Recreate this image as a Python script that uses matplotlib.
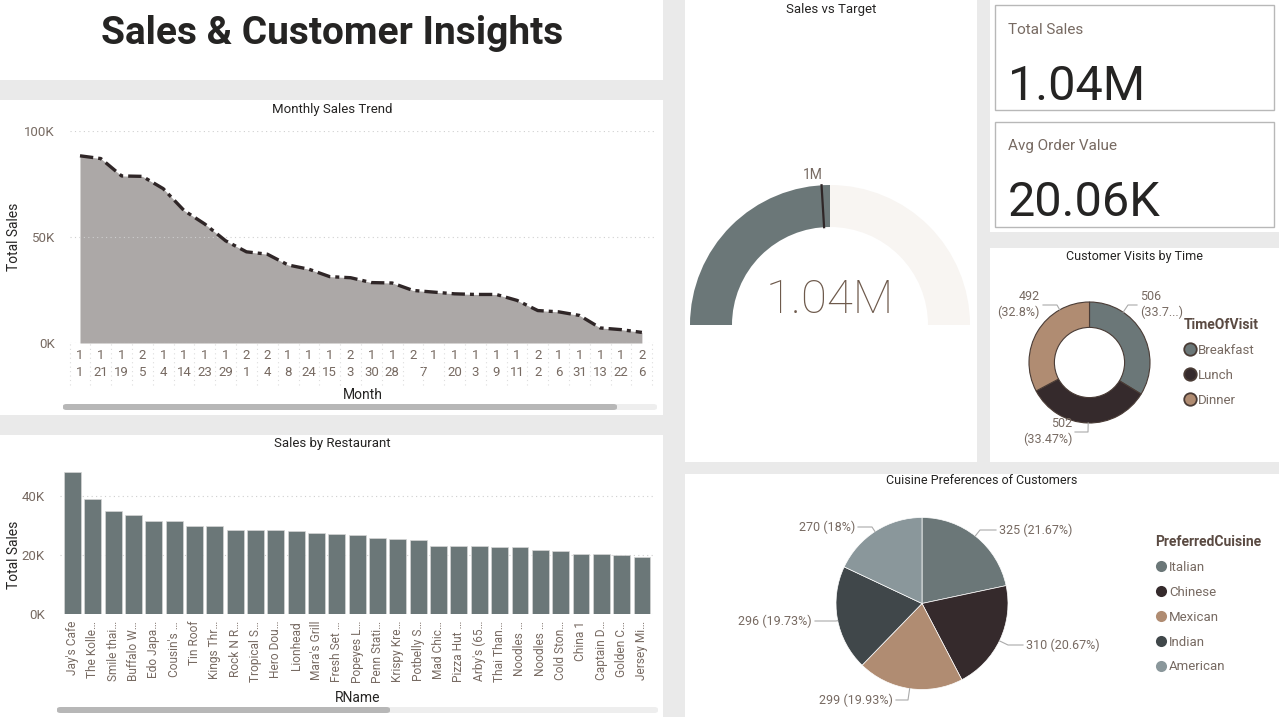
import numpy as np
import matplotlib.pyplot as plt
from matplotlib.patches import Rectangle, Wedge, FancyBboxPatch
from matplotlib.lines import Line2D

plt.rcParams['font.family'] = ['Roboto', 'DejaVu Sans']

# Monthly Sales Trend
month_top = ['1', '1', '1', '2', '1', '1', '1', '1', '2', '2', '1', '1', '1', '2',
             '1', '1', '2', '1', '1', '1', '1', '1', '2', '1', '1', '1', '1', '2']
month_bottom = ['1', '21', '19', '5', '4', '14', '23', '29', '1', '4', '8', '24', '15', '3',
                '30', '28', '', '', '20', '3', '9', '11', '2', '6', '31', '13', '22', '6']
month_shared = '7'  # label shared by ticks 16 and 17
monthly_sales = [88300, 87000, 78800, 78600, 72800, 62500, 56100, 48200, 43000, 41900,
                 36800, 34800, 31300, 30800, 28500, 28300, 24800, 24000, 23200, 22900,
                 22900, 20100, 15300, 14700, 13000, 7100, 6300, 5000]

# Sales by Restaurant
restaurants = ["Jay's Cafe", "The Kolle…", "Smile thai…", "Buffalo W…", "Edo Japa…",
               "Cousin's …", "Tin Roof", "Kings Thr…", "Rock N R…", "Tropical S…",
               "Hero Dou…", "Lionhead", "Mara's Grill", "Fresh Set …", "Popeyes L…",
               "Penn Stati…", "Krispy Kre…", "Potbelly S…", "Mad Chic…", "Pizza Hut …",
               "Arby's (65…", "Thai Than…", "Noodles …", "Noodles …", "Cold Ston…",
               "China 1", "Captain D…", "Golden C…", "Jersey Mi…"]
restaurant_sales = [48100, 38800, 34900, 33400, 31500, 31300, 29900, 29600, 28500, 28300,
                    28300, 28100, 27300, 26900, 26600, 25600, 25200, 24900, 23100, 22900,
                    22900, 22800, 22500, 21600, 21400, 20300, 20200, 19900, 19300]

# KPIs / gauge
total_sales = 1.04e6
avg_order_value = 20060
sales_target = 1.0e6
gauge_max = 2 * total_sales

# Customer visits
visit_times = ['Breakfast', 'Lunch', 'Dinner']
visit_counts = [506, 502, 492]
visit_colors = ['#6b7778', '#352a2c', '#b08c72']

# Cuisine preferences
cuisines = ['Italian', 'Chinese', 'Mexican', 'Indian', 'American']
cuisine_counts = [325, 310, 299, 296, 270]
cuisine_colors = ['#6b7778', '#352a2c', '#b08c72', '#40474a', '#8a979b']

DARK = '#252423'
MUTED = '#776a62'

W, H = 1279, 717
fig = plt.figure(figsize=(W / 100, H / 100), dpi=100, facecolor='#eaeaea')


def box(x0, y0, x1, y1):
    return [x0 / W, 1 - y1 / H, (x1 - x0) / W, (y1 - y0) / H]


def panel(x0, y0, x1, y1, fc='white', ec='none', lw=0):
    fig.add_artist(Rectangle((x0 / W, 1 - y1 / H), (x1 - x0) / W, (y1 - y0) / H,
                             transform=fig.transFigure, facecolor=fc, edgecolor=ec,
                             linewidth=lw, zorder=0))


def ftext(x, y, s, **kw):
    fig.text(x / W, 1 - y / H, s, **kw)


def scrollbar(x0, x1, thumb_end, y):
    for xe, c in [(x1, '#eeeeee'), (thumb_end, '#b7b7b7')]:
        fig.add_artist(FancyBboxPatch((x0 / W, 1 - (y + 3) / H), (xe - x0) / W, 6 / H,
                                      boxstyle='round,pad=0,rounding_size=0.003',
                                      transform=fig.transFigure, facecolor=c,
                                      edgecolor='none', zorder=1))


def kfmt(v, pos=None):
    return f'{v / 1000:.0f}K'


# panels
for p in [(0, 0, 663, 80), (0, 100, 663, 415), (0, 435, 663, 717), (685, 0, 977, 462),
          (990, 0, 1279, 232), (990, 248, 1279, 462), (685, 474, 1279, 717)]:
    panel(*p)

ftext(332, 34, 'Sales & Customer Insights', ha='center', va='center',
      fontsize=28, fontweight='bold', color=DARK)

# ---------------- Monthly Sales Trend ----------------
ftext(332, 110, 'Monthly Sales Trend', ha='center', va='center', fontsize=9.5, color=DARK)
ax1 = fig.add_axes(box(70, 131, 655, 343))
x = np.arange(len(monthly_sales))
ax1.fill_between(x, monthly_sales, color='#aca8a7', lw=0)
ax1.plot(x, monthly_sales, color='#2f2627', lw=2.4, dashes=(4, 1.5, 1.2, 1.5))
ax1.set_xlim(-0.48, len(x) - 1 + 0.63)
ax1.set_ylim(0, 100000)
ax1.set_yticks([0, 50000, 100000])
ax1.yaxis.set_major_formatter(kfmt)
ax1.set_xticks(x, [f'{t}\n{b}' for t, b in zip(month_top, month_bottom)])
ax1.set_xticks([16.5], ['\n' + month_shared], minor=True)
ax1.tick_params(axis='both', which='both', length=0, labelsize=9.5, labelcolor=MUTED)
ax1.tick_params(axis='x', which='both', pad=4)
ax1.tick_params(axis='y', pad=11)
for t in ax1.get_xticklabels(which='both'):
    t.set_linespacing(1.4)
ax1.grid(axis='y', ls=(0, (1, 3)), color='#cfcfcf', lw=0.8)
ax1.vlines(np.arange(-0.5, len(x), 1), -0.2, 0, transform=ax1.get_xaxis_transform(),
           colors='#dddddd', lw=0.8, ls=(0, (1, 3)), clip_on=False)
for s in ax1.spines.values():
    s.set_visible(False)
ax1.set_ylabel('Total Sales', fontsize=10, color=DARK)
ax1.yaxis.set_label_coords((21 - 70) / 585, 0.5)
ax1.set_xlabel('Month', fontsize=10, color=DARK)
ax1.xaxis.set_label_coords(0.5, -(388 - 343) / 212)
scrollbar(63, 657, 617, 407)

# ---------------- Sales by Restaurant ----------------
ftext(332, 444, 'Sales by Restaurant', ha='center', va='center', fontsize=9.5, color=DARK)
ax2 = fig.add_axes(box(60, 465, 655, 614))
xb = np.arange(len(restaurant_sales))
ax2.bar(xb, restaurant_sales, width=0.83, color='#6b7778', edgecolor='#d6d6d6', lw=0.5)
ax2.set_xlim(-0.615, len(xb) - 1 + 0.64)
ax2.set_ylim(0, 50370)
ax2.set_yticks([0, 20000, 40000])
ax2.yaxis.set_major_formatter(kfmt)
ax2.set_xticks(xb, restaurants, rotation=90)
ax2.tick_params(axis='both', length=0, labelsize=9.5, labelcolor=MUTED)
ax2.tick_params(axis='x', pad=5, labelsize=8.6)
ax2.tick_params(axis='y', pad=11)
ax2.grid(axis='y', ls=(0, (1, 3)), color='#cfcfcf', lw=0.8)
ax2.set_axisbelow(True)
for s in ax2.spines.values():
    s.set_visible(False)
ax2.set_ylabel('Total Sales', fontsize=10, color=DARK)
ax2.yaxis.set_label_coords((21 - 60) / 595, (614 - 555) / 149)
ax2.set_xlabel('RName', fontsize=10, color=DARK)
ax2.xaxis.set_label_coords(0.5, -(691 - 614) / 149)
scrollbar(57, 658, 390, 710)

# ---------------- Sales vs Target gauge ----------------
ftext(831, 9, 'Sales vs Target', ha='center', va='center', fontsize=9.5, color=DARK)
gcx, gcy, gR = 830, 325, 140
ax3 = fig.add_axes(box(685, 150, 977, 345))
ax3.set_xlim((685 - gcx) / gR, (977 - gcx) / gR)
ax3.set_ylim((gcy - 345) / gR, (gcy - 150) / gR)
ax3.axis('off')
filled = 180 * total_sales / gauge_max
ax3.add_patch(Wedge((0, 0), 1, 180 - filled, 180, width=0.3, color='#6b7778', lw=0))
ax3.add_patch(Wedge((0, 0), 1, 0, 180 - filled, width=0.3, color='#f8f5f2', lw=0))
ta = np.radians(180 - 180 * sales_target / gauge_max)
ax3.plot([0.7 * np.cos(ta), np.cos(ta)], [0.7 * np.sin(ta), np.sin(ta)], color='#2f2627', lw=1.6)
ax3.text(1.07 * np.cos(ta) + 0.01, 1.07 * np.sin(ta), f'{sales_target / 1e6:.0f}M',
         ha='right', va='center', fontsize=10, color=MUTED)
ax3.text(0, (gcy - 300) / gR, f'{total_sales / 1e6:.2f}M', ha='center', va='center',
         fontsize=34, fontweight='light', color='#6e5a4c')

# ---------------- KPI cards ----------------
panel(995, 5, 1274, 110, fc='white', ec='#b8b8b8', lw=1)
panel(995, 122, 1274, 227, fc='white', ec='#b8b8b8', lw=1)
ftext(1008, 30, 'Total Sales', ha='left', va='center', fontsize=11, color=MUTED)
ftext(1008, 100, f'{total_sales / 1e6:.2f}M', ha='left', va='baseline', fontsize=35, color=DARK)
ftext(1008, 146, 'Avg Order Value', ha='left', va='center', fontsize=11, color=MUTED)
ftext(1008, 216, f'{avg_order_value / 1000:.2f}K', ha='left', va='baseline', fontsize=35, color=DARK)


def pct(v, total):
    return f'{v / total * 100:.2f}'.rstrip('0').rstrip('.') + '%'


def pie_labels(ax, cx, cy, R, layout, texts):
    for (tx, ty, ha, ex), s in zip(layout, texts):
        ang = np.arctan2(cy - ty, ex - cx)
        sx, sy = cx + R * np.cos(ang), cy - R * np.sin(ang)
        endx = tx - 3 if ha == 'left' else tx + 3
        px = np.array([sx, ex, endx])
        py = np.array([sy, ty, ty])
        ax.plot((px - cx) / R, (cy - py) / R, color='#aaaaaa', lw=0.8, clip_on=False)
        ax.text((tx - cx) / R, (cy - ty) / R, s, ha=ha, va='center', fontsize=9,
                color=MUTED, linespacing=1.25)


def legend(handles, labels, title, x, y, spacing):
    leg = fig.legend(handles, labels, title=title, loc='upper left',
                     bbox_to_anchor=(x / W, 1 - y / H), frameon=False, fontsize=9.5,
                     title_fontsize=10, labelspacing=spacing, handletextpad=0.15,
                     handlelength=0.9, alignment='left', borderaxespad=0, borderpad=0)
    leg.get_title().set_fontweight('bold')
    leg.get_title().set_color('#5a4a42')
    for t in leg.get_texts():
        t.set_color(MUTED)
    return leg


# ---------------- Customer Visits by Time ----------------
ftext(1135, 256, 'Customer Visits by Time', ha='center', va='center', fontsize=9, color=DARK)
dcx, dcy, dR = 1089.5, 362.5, 60.5
ax4 = fig.add_axes(box(dcx - 100, dcy - 100, dcx + 100, dcy + 100))
ax4.pie(visit_counts, colors=visit_colors, startangle=90, counterclock=False, radius=1,
        wedgeprops=dict(width=0.42, edgecolor='#4a3c36', linewidth=0.8))
ax4.set_xlim(-100 / dR, 100 / dR)
ax4.set_ylim(-100 / dR, 100 / dR)
ax4.axis('off')
vt = sum(visit_counts)
visit_text = [f'{v}\n({pct(v, vt)})' for v in visit_counts]
visit_text[0] = visit_text[0][:9] + '...)'
visit_layout = [(1140, 305, 'left', 1128), (1072, 432, 'right', 1088), (1040, 305, 'right', 1057)]
pie_labels(ax4, dcx, dcy, dR, visit_layout, visit_text)
vh = [Line2D([], [], ls='', marker='o', ms=9, mfc=c, mec='#4a3c36', mew=1.3) for c in visit_colors]
legend(vh, visit_times, 'TimeOfVisit', 1184, 318, 0.9)

# ---------------- Cuisine Preferences ----------------
ftext(982, 481, 'Cuisine Preferences of Customers', ha='center', va='center', fontsize=9, color=DARK)
pcx, pcy, pR = 922, 603.5, 86
ax5 = fig.add_axes(box(pcx - 130, pcy - 130, pcx + 130, pcy + 130))
ax5.pie(cuisine_counts, colors=cuisine_colors, startangle=90, counterclock=False, radius=1,
        wedgeprops=dict(edgecolor='white', linewidth=0.5))
ax5.set_xlim(-130 / pR, 130 / pR)
ax5.set_ylim(-130 / pR, 130 / pR)
ax5.axis('off')
ct = sum(cuisine_counts)
cuisine_text = [f'{v} ({pct(v, ct)})' for v in cuisine_counts]
cuisine_layout = [(999, 530, 'left', 980), (1026, 645, 'left', 1008), (893, 700, 'right', 908),
                  (812, 621, 'right', 836), (855, 527, 'right', 872)]
pie_labels(ax5, pcx, pcy, pR, cuisine_layout, cuisine_text)
chh = [Line2D([], [], ls='', marker='o', ms=8, mfc=c, mec='none') for c in cuisine_colors]
legend(chh, cuisines, 'PreferredCuisine', 1155, 535, 0.9)

fig.savefig('out.png', dpi=100, facecolor=fig.get_facecolor())
